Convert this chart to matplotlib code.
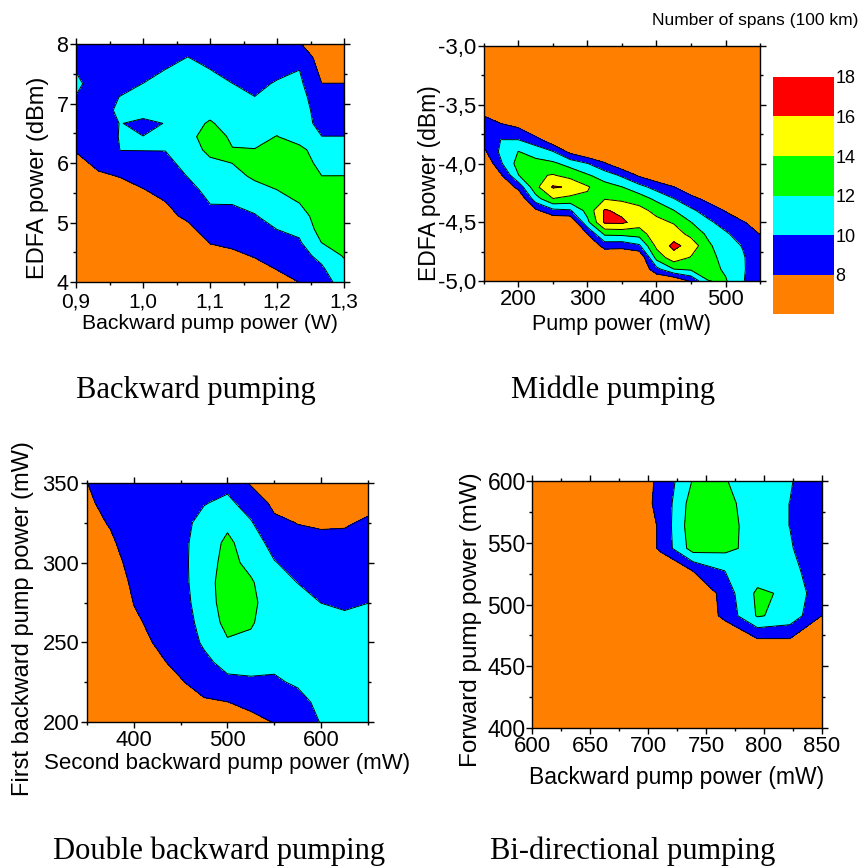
import numpy as np
import matplotlib.pyplot as plt
from matplotlib.ticker import MultipleLocator

plt.rcParams['font.family'] = ['Liberation Sans', 'DejaVu Sans']

band_levels = [0, 8, 10, 12, 14, 16, 18]
band_colors = ['#ff8000', '#0000ff', '#00ffff', '#00ff00', '#ffff00', '#ff0000']
line_levels = [8, 10, 12, 14, 16]
span_ticks = [8, 10, 12, 14, 16, 18]

# Backward pumping: one list of span counts per backward pump power (W), EDFA power ascending
bw_pump = [0.9, 0.9333, 0.9667, 1.0, 1.0333, 1.0667, 1.1, 1.1333, 1.1667, 1.2, 1.2333, 1.2667, 1.3]
bw_edfa = [4.0, 4.222, 4.444, 4.667, 4.889, 5.111, 5.333, 5.556, 5.778, 6.0,
           6.222, 6.444, 6.667, 6.889, 7.111, 7.333, 7.556, 7.778, 8.0]
bw_spans = [
    [5.0, 5.3, 5.6, 5.9, 6.2, 6.5, 6.8, 7.0, 7.3, 7.6, 8.1, 8.8, 9.3, 9.6, 9.95, 10.3, 9.95, 9.5, 9.2],
    [5.2, 5.5, 5.8, 6.1, 6.4, 6.7, 7.0, 7.3, 7.8, 8.3, 8.8, 9.2, 9.4, 9.4, 9.4, 9.3, 9.2, 9.0, 8.9],
    [5.5, 5.8, 6.1, 6.4, 6.7, 7.0, 7.3, 7.6, 8.05, 9.0, 10.05, 10.1, 10.05, 10.3, 10.05, 9.5, 9.2, 9.0, 8.9],
    [5.8, 6.1, 6.4, 6.7, 7.0, 7.3, 7.6, 7.95, 8.6, 9.3, 10.05, 10.02, 9.6, 10.7, 11.0, 10.02, 9.4, 9.1, 8.9],
    [6.0, 6.3, 6.6, 6.9, 7.2, 7.6, 7.95, 8.5, 9.0, 9.5, 10.05, 10.4, 10.05, 10.8, 11.0, 10.6, 10.05, 9.4, 9.0],
    [6.2, 6.6, 6.9, 7.2, 7.6, 8.3, 8.8, 9.4, 10.05, 10.6, 11.0, 11.2, 11.3, 11.2, 11.0, 10.8, 10.6, 10.02, 9.4],
    [6.5, 7.0, 7.6, 8.05, 8.8, 9.6, 10.05, 10.6, 11.1, 11.6, 12.5, 13.2, 12.2, 11.4, 11.0, 10.7, 10.05, 9.5, 9.2],
    [6.8, 7.2, 7.7, 8.3, 9.0, 9.7, 10.05, 10.8, 11.4, 12.02, 12.1, 11.6, 11.2, 10.9, 10.6, 10.02, 9.4, 9.0, 8.8],
    [7.0, 7.5, 8.1, 8.6, 9.2, 9.9, 10.5, 11.4, 12.3, 12.5, 12.05, 11.5, 11.0, 10.6, 10.02, 9.5, 9.1, 8.8, 8.6],
    [7.5, 8.05, 8.6, 9.2, 10.02, 10.7, 11.3, 12.02, 12.8, 13.2, 12.9, 12.05, 11.4, 10.9, 10.5, 10.2, 9.5, 9.0, 8.7],
    [8.02, 8.9, 9.5, 9.8, 10.4, 11.0, 12.02, 12.7, 13.2, 13.0, 12.6, 11.0, 10.9, 10.8, 10.6, 10.4, 10.02, 9.2, 8.1],
    [9.4, 9.8, 10.4, 12.05, 12.8, 13.2, 13.4, 13.3, 12.02, 11.4, 10.8, 10.02, 9.4, 9.2, 8.9, 8.02, 7.5, 7.2, 7.0],
    [10.6, 11.2, 12.2, 12.8, 13.2, 13.4, 13.5, 13.3, 12.02, 11.5, 10.9, 10.02, 9.4, 9.2, 8.9, 8.02, 7.5, 7.2, 7.0],
]
bw_xticks = [0.9, 1.0, 1.1, 1.2, 1.3]
bw_xlabels = ['0,9', '1,0', '1,1', '1,2', '1,3']
bw_yticks = [4, 5, 6, 7, 8]
bw_ylabels = ['4', '5', '6', '7', '8']

# Middle pumping: one list per pump power (mW), EDFA power from -5.0 to -3.0 dBm
mid_pump = [150, 175, 200, 225, 250, 275, 300, 325, 350, 375, 400, 425, 450, 475, 500, 525, 550]
mid_edfa = [-5.0, -4.9, -4.8, -4.7, -4.6, -4.5, -4.4, -4.3, -4.2, -4.1, -4.0,
            -3.9, -3.8, -3.7, -3.6, -3.5, -3.4, -3.3, -3.2, -3.1, -3.0]
mid_spans = [
    [6.0, 6.0, 6.0, 6.0, 6.0, 6.0, 6.0, 6.0, 6.0, 6.0, 6.0, 7.55, 8.65, 9.0, 8.05, 7.0, 6.0, 6.0, 6.0, 6.0, 6.0],
    [6.0, 6.0, 6.0, 6.0, 6.0, 6.0, 6.0, 6.0, 6.0, 7.8, 9.8, 10.5, 10.05, 8.52, 7.2, 6.0, 6.0, 6.0, 6.0, 6.0, 6.0],
    [6.0, 6.0, 6.0, 6.0, 6.0, 6.0, 6.0, 6.0, 8.67, 11.95, 12.8, 12.05, 10.05, 8.1, 6.0, 6.0, 6.0, 6.0, 6.0, 6.0, 6.0],
    [6.0, 6.0, 6.0, 6.0, 6.0, 6.0, 7.6, 11.14, 13.5, 13.7, 12.57, 11.26, 8.86, 6.0, 6.0, 6.0, 6.0, 6.0, 6.0, 6.0, 6.0],
    [6.0, 6.0, 6.0, 6.0, 6.0, 6.0, 9.46, 13.95, 16.2, 14.14, 12.36, 10.12, 6.56, 6.0, 6.0, 6.0, 6.0, 6.0, 6.0, 6.0, 6.0],
    [6.0, 6.0, 6.0, 6.0, 6.0, 6.0, 9.78, 13.4, 15.8, 13.27, 11.29, 7.43, 6.0, 6.0, 6.0, 6.0, 6.0, 6.0, 6.0, 6.0, 6.0],
    [6.0, 6.0, 6.0, 6.0, 7.95, 11.5, 12.74, 13.67, 14.2, 12.2, 10.05, 6.0, 6.0, 6.0, 6.0, 6.0, 6.0, 6.0, 6.0, 6.0, 6.0],
    [6.0, 6.0, 6.0, 8.8, 12.35, 16.33, 16.23, 13.9, 12.7, 11.1, 8.18, 6.0, 6.0, 6.0, 6.0, 6.0, 6.0, 6.0, 6.0, 6.0, 6.0],
    [6.0, 6.0, 6.0, 8.66, 12.5, 16.42, 15.43, 13.6, 12.03, 9.65, 6.35, 6.0, 6.0, 6.0, 6.0, 6.0, 6.0, 6.0, 6.0, 6.0, 6.0],
    [6.0, 6.0, 6.0, 9.67, 12.82, 15.0, 14.7, 13.0, 10.7, 7.67, 6.0, 6.0, 6.0, 6.0, 6.0, 6.0, 6.0, 6.0, 6.0, 6.0, 6.0],
    [6.0, 9.34, 12.75, 14.5, 15.5, 14.59, 13.39, 11.54, 9.2, 6.53, 6.0, 6.0, 6.0, 6.0, 6.0, 6.0, 6.0, 6.0, 6.0, 6.0, 6.0],
    [6.0, 11.95, 15.2, 16.5, 15.06, 13.82, 12.05, 10.05, 8.05, 6.0, 6.0, 6.0, 6.0, 6.0, 6.0, 6.0, 6.0, 6.0, 6.0, 6.0, 6.0],
    [8.3, 12.3, 13.85, 15.3, 13.38, 12.03, 10.4, 8.57, 6.67, 6.0, 6.0, 6.0, 6.0, 6.0, 6.0, 6.0, 6.0, 6.0, 6.0, 6.0, 6.0],
    [11.95, 12.8, 12.8, 12.35, 11.6, 10.4, 9.04, 7.44, 6.0, 6.0, 6.0, 6.0, 6.0, 6.0, 6.0, 6.0, 6.0, 6.0, 6.0, 6.0, 6.0],
    [12.2, 11.7, 11.2, 10.8, 10.3, 9.13, 7.88, 6.6, 6.0, 6.0, 6.0, 6.0, 6.0, 6.0, 6.0, 6.0, 6.0, 6.0, 6.0, 6.0, 6.0],
    [10.1, 10.2, 10.2, 9.9, 9.0, 8.1, 7.1, 6.1, 6.0, 6.0, 6.0, 6.0, 6.0, 6.0, 6.0, 6.0, 6.0, 6.0, 6.0, 6.0, 6.0],
    [9.0, 8.9, 8.7, 8.4, 7.95, 7.44, 6.9, 6.4, 6.0, 6.0, 6.0, 6.0, 6.0, 6.0, 6.0, 6.0, 6.0, 6.0, 6.0, 6.0, 6.0],
]
mid_xticks = [200, 300, 400, 500]
mid_yticks = [-5.0, -4.5, -4.0, -3.5, -3.0]
mid_ylabels = ['-5,0', '-4,5', '-4,0', '-3,5', '-3,0']

# Double backward pumping: one list per second pump power (mW), first pump power ascending
dbl_second = [350, 375, 400, 425, 450, 475, 500, 525, 550, 575, 600, 625, 650]
dbl_first = [200, 212.5, 225, 237.5, 250, 262.5, 275, 287.5, 300, 312.5, 325, 337.5, 350]
dbl_spans = [
    [5.0, 5.2, 5.4, 5.6, 5.98, 6.23, 6.48, 6.73, 6.98, 7.23, 7.48, 7.73, 7.98],
    [6.0, 6.0, 6.0, 6.0, 6.0, 6.25, 6.62, 7.0, 7.37, 7.75, 8.12, 8.5, 8.87],
    [6.0, 6.19, 6.56, 7.1, 7.55, 7.75, 8.04, 8.29, 8.54, 8.79, 9.04, 9.29, 9.54],
    [6.65, 7.03, 7.4, 7.78, 8.12, 8.4, 8.55, 8.7, 8.85, 9.01, 9.2, 9.39, 9.58],
    [7.0, 7.5, 7.9, 8.35, 8.7, 9.0, 9.3, 9.45, 9.5, 9.5, 9.4, 9.2, 9.0],
    [7.2, 7.85, 8.5, 9.5, 10.3, 10.7, 10.9, 11.0, 11.0, 10.9, 10.6, 9.9, 9.3],
    [7.4, 7.98, 9.5, 10.7, 11.8, 12.6, 13.0, 13.1, 12.7, 12.4, 11.6, 10.4, 9.5],
    [7.6, 8.35, 9.7, 10.7, 11.4, 12.3, 12.6, 12.25, 11.4, 11.0, 10.15, 9.2, 7.8],
    [8.05, 8.9, 9.8, 10.3, 10.4, 10.4, 10.6, 10.5, 10.1, 9.3, 8.4, 7.55, 7.0],
    [8.8, 9.5, 10.2, 10.5, 10.7, 10.7, 10.5, 9.98, 9.3, 8.6, 7.95, 7.4, 7.0],
    [10.1, 10.4, 10.7, 10.9, 10.9, 10.6, 9.98, 9.4, 8.9, 8.4, 7.8, 7.3, 7.0],
    [10.9, 11.0, 11.0, 10.9, 10.6, 10.3, 9.8, 9.3, 8.8, 8.4, 7.85, 7.3, 7.0],
    [11.0, 11.1, 11.1, 11.0, 10.8, 10.5, 9.98, 9.5, 9.0, 8.6, 8.2, 7.6, 7.2],
]
dbl_xticks = [400, 500, 600]
dbl_yticks = [200, 250, 300, 350]

# Bi-directional pumping: one list per backward pump power (mW), forward pump power ascending
bi_backward = [600, 627.8, 655.6, 683.3, 711.1, 738.9, 766.7, 794.4, 822.2, 850]
bi_forward = [400, 418.2, 436.4, 454.5, 472.7, 490.9, 509.1, 527.3, 545.5, 563.6, 581.8, 600]
bi_spans = [
    [5, 5, 5, 5, 5, 5, 5, 5, 5, 5, 5, 5],
    [5, 5, 5, 5, 5, 5, 5, 5, 5, 5, 5, 5],
    [5, 5, 5, 5, 5, 5, 5, 5, 5, 5, 5, 5],
    [5, 5, 5, 5, 5, 5, 5, 5, 5.3, 5.3, 6.92, 6.94],
    [5, 5, 5, 5, 5, 5, 5, 6, 8.4, 8.4, 8.4, 8.3],
    [5, 5, 5, 5, 5, 5.87, 5.43, 8.05, 12.9, 13.3, 13.0, 12.16],
    [5, 5, 5, 5, 6, 8.6, 9.0, 10.05, 12.5, 12.9, 12.6, 12.08],
    [5, 5, 5, 5, 8.05, 12.2, 12.4, 10.8, 11.25, 10.8, 10.84, 11.08],
    [5, 5, 5, 5, 8.05, 11.3, 11.6, 10.7, 10.2, 9.98, 9.98, 10.2],
    [5, 5, 5, 5, 6, 7.97, 8.56, 8.64, 8.38, 8.6, 8.5, 8.2],
]
bi_xticks = [600, 650, 700, 750, 800, 850]
bi_yticks = [400, 450, 500, 550, 600]


def draw_map(ax, x, y, z_by_x):
    z = np.array(z_by_x).T
    cs = ax.contourf(x, y, z, levels=band_levels, colors=band_colors)
    ax.contour(x, y, z, levels=line_levels, colors='black', linewidths=0.7)
    ax.set_xlim(x[0], x[-1])
    ax.set_ylim(y[0], y[-1])
    ax.tick_params(which='both', direction='out', top=True, right=True, width=1)
    ax.tick_params(which='major', length=4.5)
    ax.tick_params(which='minor', length=2.5)
    ax.tick_params(axis='x', pad=1.5)
    ax.tick_params(axis='y', pad=1)
    for s in ax.spines.values():
        s.set_linewidth(1.0)
    return cs


def place_labels(ax, xlab, ylab, xpos, ypos, xsize, ysize):
    ax.set_xlabel(xlab, fontsize=xsize, va='center')
    ax.set_ylabel(ylab, fontsize=ysize, va='center')
    ax.xaxis.set_label_coords(*xpos)
    ax.yaxis.set_label_coords(*ypos)


fig = plt.figure(figsize=(8.61, 8.67), dpi=100)

ax1 = fig.add_axes([0.0883, 0.6747, 0.3113, 0.2745])
draw_map(ax1, bw_pump, bw_edfa, bw_spans)
ax1.set_xticks(bw_xticks)
ax1.set_xticklabels(bw_xlabels, fontsize=15)
ax1.set_yticks(bw_yticks)
ax1.set_yticklabels(bw_ylabels, fontsize=15.5)
ax1.xaxis.set_minor_locator(MultipleLocator(0.05))
ax1.yaxis.set_minor_locator(MultipleLocator(0.5))
ax1.tick_params(axis='x', pad=3)
place_labels(ax1, 'Backward pump power (W)', 'EDFA power (dBm)',
             (0.5, -0.176), (-0.142, 0.437), 15.3, 17)

ax2 = fig.add_axes([0.5621, 0.6759, 0.3206, 0.2710])
cs2 = draw_map(ax2, mid_pump, mid_edfa, mid_spans)
ax2.set_xticks(mid_xticks)
ax2.set_xticklabels([str(v) for v in mid_xticks], fontsize=15.8)
ax2.set_yticks(mid_yticks)
ax2.set_yticklabels(mid_ylabels, fontsize=16)
ax2.xaxis.set_minor_locator(MultipleLocator(50))
ax2.yaxis.set_minor_locator(MultipleLocator(0.25))
place_labels(ax2, 'Pump power (mW)', 'EDFA power (dBm)',
             (0.5, -0.187), (-0.198, 0.417), 15.5, 16.5)

ax3 = fig.add_axes([0.1010, 0.1672, 0.3264, 0.2757])
draw_map(ax3, dbl_second, dbl_first, dbl_spans)
ax3.set_xticks(dbl_xticks)
ax3.set_xticklabels([str(v) for v in dbl_xticks], fontsize=15.8)
ax3.set_yticks(dbl_yticks)
ax3.set_yticklabels([str(v) for v in dbl_yticks], fontsize=15.8)
ax3.xaxis.set_minor_locator(MultipleLocator(50))
ax3.yaxis.set_minor_locator(MultipleLocator(25))
place_labels(ax3, 'Second backward pump power (mW)', 'First backward pump power (mW)',
             (0.5, -0.172), (-0.228, 0.431), 16, 17)

ax4 = fig.add_axes([0.6179, 0.1603, 0.3368, 0.2849])
draw_map(ax4, bi_backward, bi_forward, bi_spans)
ax4.set_xticks(bi_xticks)
ax4.set_xticklabels([str(v) for v in bi_xticks], fontsize=16)
ax4.set_yticks(bi_yticks)
ax4.set_yticklabels([str(v) for v in bi_yticks], fontsize=16.5)
ax4.xaxis.set_minor_locator(MultipleLocator(25))
ax4.yaxis.set_minor_locator(MultipleLocator(25))
ax4.tick_params(axis='y', pad=0)
place_labels(ax4, 'Backward pump power (mW)', 'Forward pump power (mW)',
             (0.5, -0.202), (-0.21, 0.437), 16.5, 17.5)

cax = fig.add_axes([0.8978, 0.6378, 0.0708, 0.2734])
cb = fig.colorbar(cs2, cax=cax, ticks=span_ticks)
cb.outline.set_visible(False)
cax.tick_params(length=0, labelsize=13, pad=1)
fig.text(0.9965, 1 - 20 / 867, 'Number of spans (100 km)', ha='right', va='center', fontsize=12.5)

serif = ['Liberation Serif', 'DejaVu Serif']
fig.text(196 / 861, 1 - 398 / 867, 'Backward pumping', ha='center', va='baseline', fontsize=22, family=serif)
fig.text(613 / 861, 1 - 398 / 867, 'Middle pumping', ha='center', va='baseline', fontsize=22, family=serif)
fig.text(219 / 861, 1 - 859 / 867, 'Double backward pumping', ha='center', va='baseline', fontsize=22, family=serif)
fig.text(633 / 861, 1 - 859 / 867, 'Bi-directional pumping', ha='center', va='baseline', fontsize=22, family=serif)

fig.savefig('out.png', dpi=100)
